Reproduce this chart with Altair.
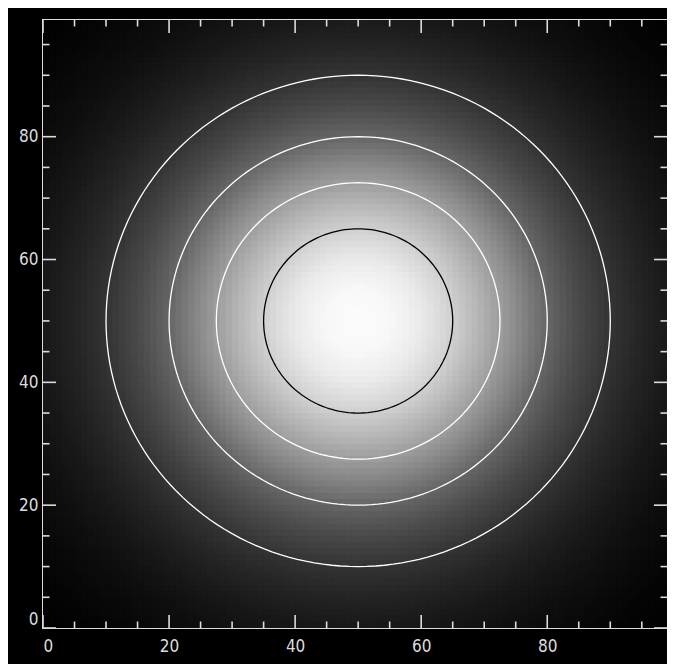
import altair as alt
import pandas as pd
import numpy as np

# Radial brightness profile: radius (data units) -> gray level 0-255
profile_r = [0, 5, 10, 15, 20, 25, 30, 35, 40, 45, 50, 55, 60, 65, 70, 80]
profile_gray = [252, 248, 234, 208, 175, 140, 102, 74, 52, 36, 24, 15, 9, 4, 1, 0]
center_x = 50
center_y = 50
grid_n = 99

# Contour circles: radius and colour
contour_r = [15, 22.5, 30, 40]
contour_names = ["c15", "c22", "c30", "c40"]
contour_colors = ["#000000", "#ffffff", "#ffffff", "#ffffff"]

# Axis ticks
tick_major = [0, 20, 40, 60, 80]
tick_minor = [5, 10, 15, 25, 30, 35, 45, 50, 55, 65, 70, 75, 85, 90, 95]

W, H = 624, 608
AXC = "#dcdcdc"
FONT = "DejaVu Sans Condensed, Liberation Sans Narrow, DejaVu Sans, sans-serif"

grays = ["#{0:02x}{0:02x}{0:02x}".format(g) for g in profile_gray]

xscale = alt.Scale(domain=[0, 99], nice=False, zero=False)
yscale = alt.Scale(domain=[0, 99], nice=False, zero=False)
xaxis = alt.Axis(values=tick_major, title="", ticks=False, domain=False, grid=False,
                 labelColor=AXC, labelFont=FONT, labelFontSize=17, labelPadding=10)
yaxis = alt.Axis(values=tick_major, title="", ticks=False, domain=False, grid=False,
                 labelColor=AXC, labelFont=FONT, labelFontSize=17, labelPadding=5,
                 labelFlush=True)

cscale = alt.Scale(domain=profile_r, range=grays, clamp=True, interpolate="rgb")

heat = (
    alt.Chart(alt.sequence(0, grid_n * grid_n, as_="i"))
    .transform_calculate(gx=f"floor(datum.i / {grid_n})")
    .transform_calculate(gy=f"datum.i % {grid_n}")
    .transform_calculate(gx2="datum.gx + 1.4")
    .transform_calculate(gy2="datum.gy + 1.4")
    .transform_calculate(
        r=f"sqrt(pow(datum.gx + 0.5 - {center_x}, 2) + pow(datum.gy + 0.5 - {center_y}, 2))"
    )
    .mark_rect(clip=True)
    .encode(
        x=alt.X("gx:Q", scale=xscale, axis=xaxis),
        x2="gx2:Q",
        y=alt.Y("gy:Q", scale=yscale, axis=yaxis),
        y2="gy2:Q",
        color=alt.Color("r:Q", scale=cscale, legend=None),
    )
)

# contour circles built from the read radii
rows = []
angles = np.arange(0, 361, 2)
for name, lvl in zip(contour_names, contour_r):
    for k, a in enumerate(angles):
        rows.append({
            "level": name,
            "k": k,
            "cx": center_x + lvl * np.cos(np.radians(a)),
            "cy": center_y + lvl * np.sin(np.radians(a)),
        })
cdf = pd.DataFrame(rows)

contours = alt.Chart(cdf).mark_line(strokeWidth=1.3).encode(
    x=alt.X("cx:Q", scale=xscale, axis=xaxis),
    y=alt.Y("cy:Q", scale=yscale, axis=yaxis),
    detail="level:N",
    order="k:Q",
    stroke=alt.Stroke("level:N", scale=alt.Scale(domain=contour_names, range=contour_colors), legend=None),
)

maj_df = pd.DataFrame({"t": tick_major})
min_df = pd.DataFrame({"t": tick_minor})
MAJ, MIN = 13, 6.5

def xticks(df, length, top):
    y0 = 0 if top else H
    y1 = length if top else H - length
    return alt.Chart(df).mark_rule(color=AXC, strokeWidth=1.6).encode(
        x=alt.X("t:Q", scale=xscale, axis=xaxis), y=alt.value(y0), y2=alt.value(y1)
    )

def yticks(df, length, right):
    x0 = W if right else 0
    x1 = W - length if right else length
    return alt.Chart(df).mark_rule(color=AXC, strokeWidth=1.6).encode(
        y=alt.Y("t:Q", scale=yscale, axis=yaxis), x=alt.value(x0), x2=alt.value(x1)
    )

ticks = [
    xticks(maj_df, MAJ, False), xticks(min_df, MIN, False),
    xticks(maj_df, MAJ, True), xticks(min_df, MIN, True),
    yticks(maj_df, MAJ, False), yticks(min_df, MIN, False),
    yticks(maj_df, MAJ, True), yticks(min_df, MIN, True),
]

chart = (
    alt.layer(heat, contours, *ticks)
    .properties(
        width=W,
        height=H,
        autosize=alt.AutoSizeParams(type="none"),
        padding={"left": 35, "top": 12, "right": 0, "bottom": 36},
        background="#000000",
    )
    .configure_view(stroke=AXC, strokeWidth=2, fill="#000000")
)

chart.save("out.html", embed_options={"renderer": "svg", "actions": False})
